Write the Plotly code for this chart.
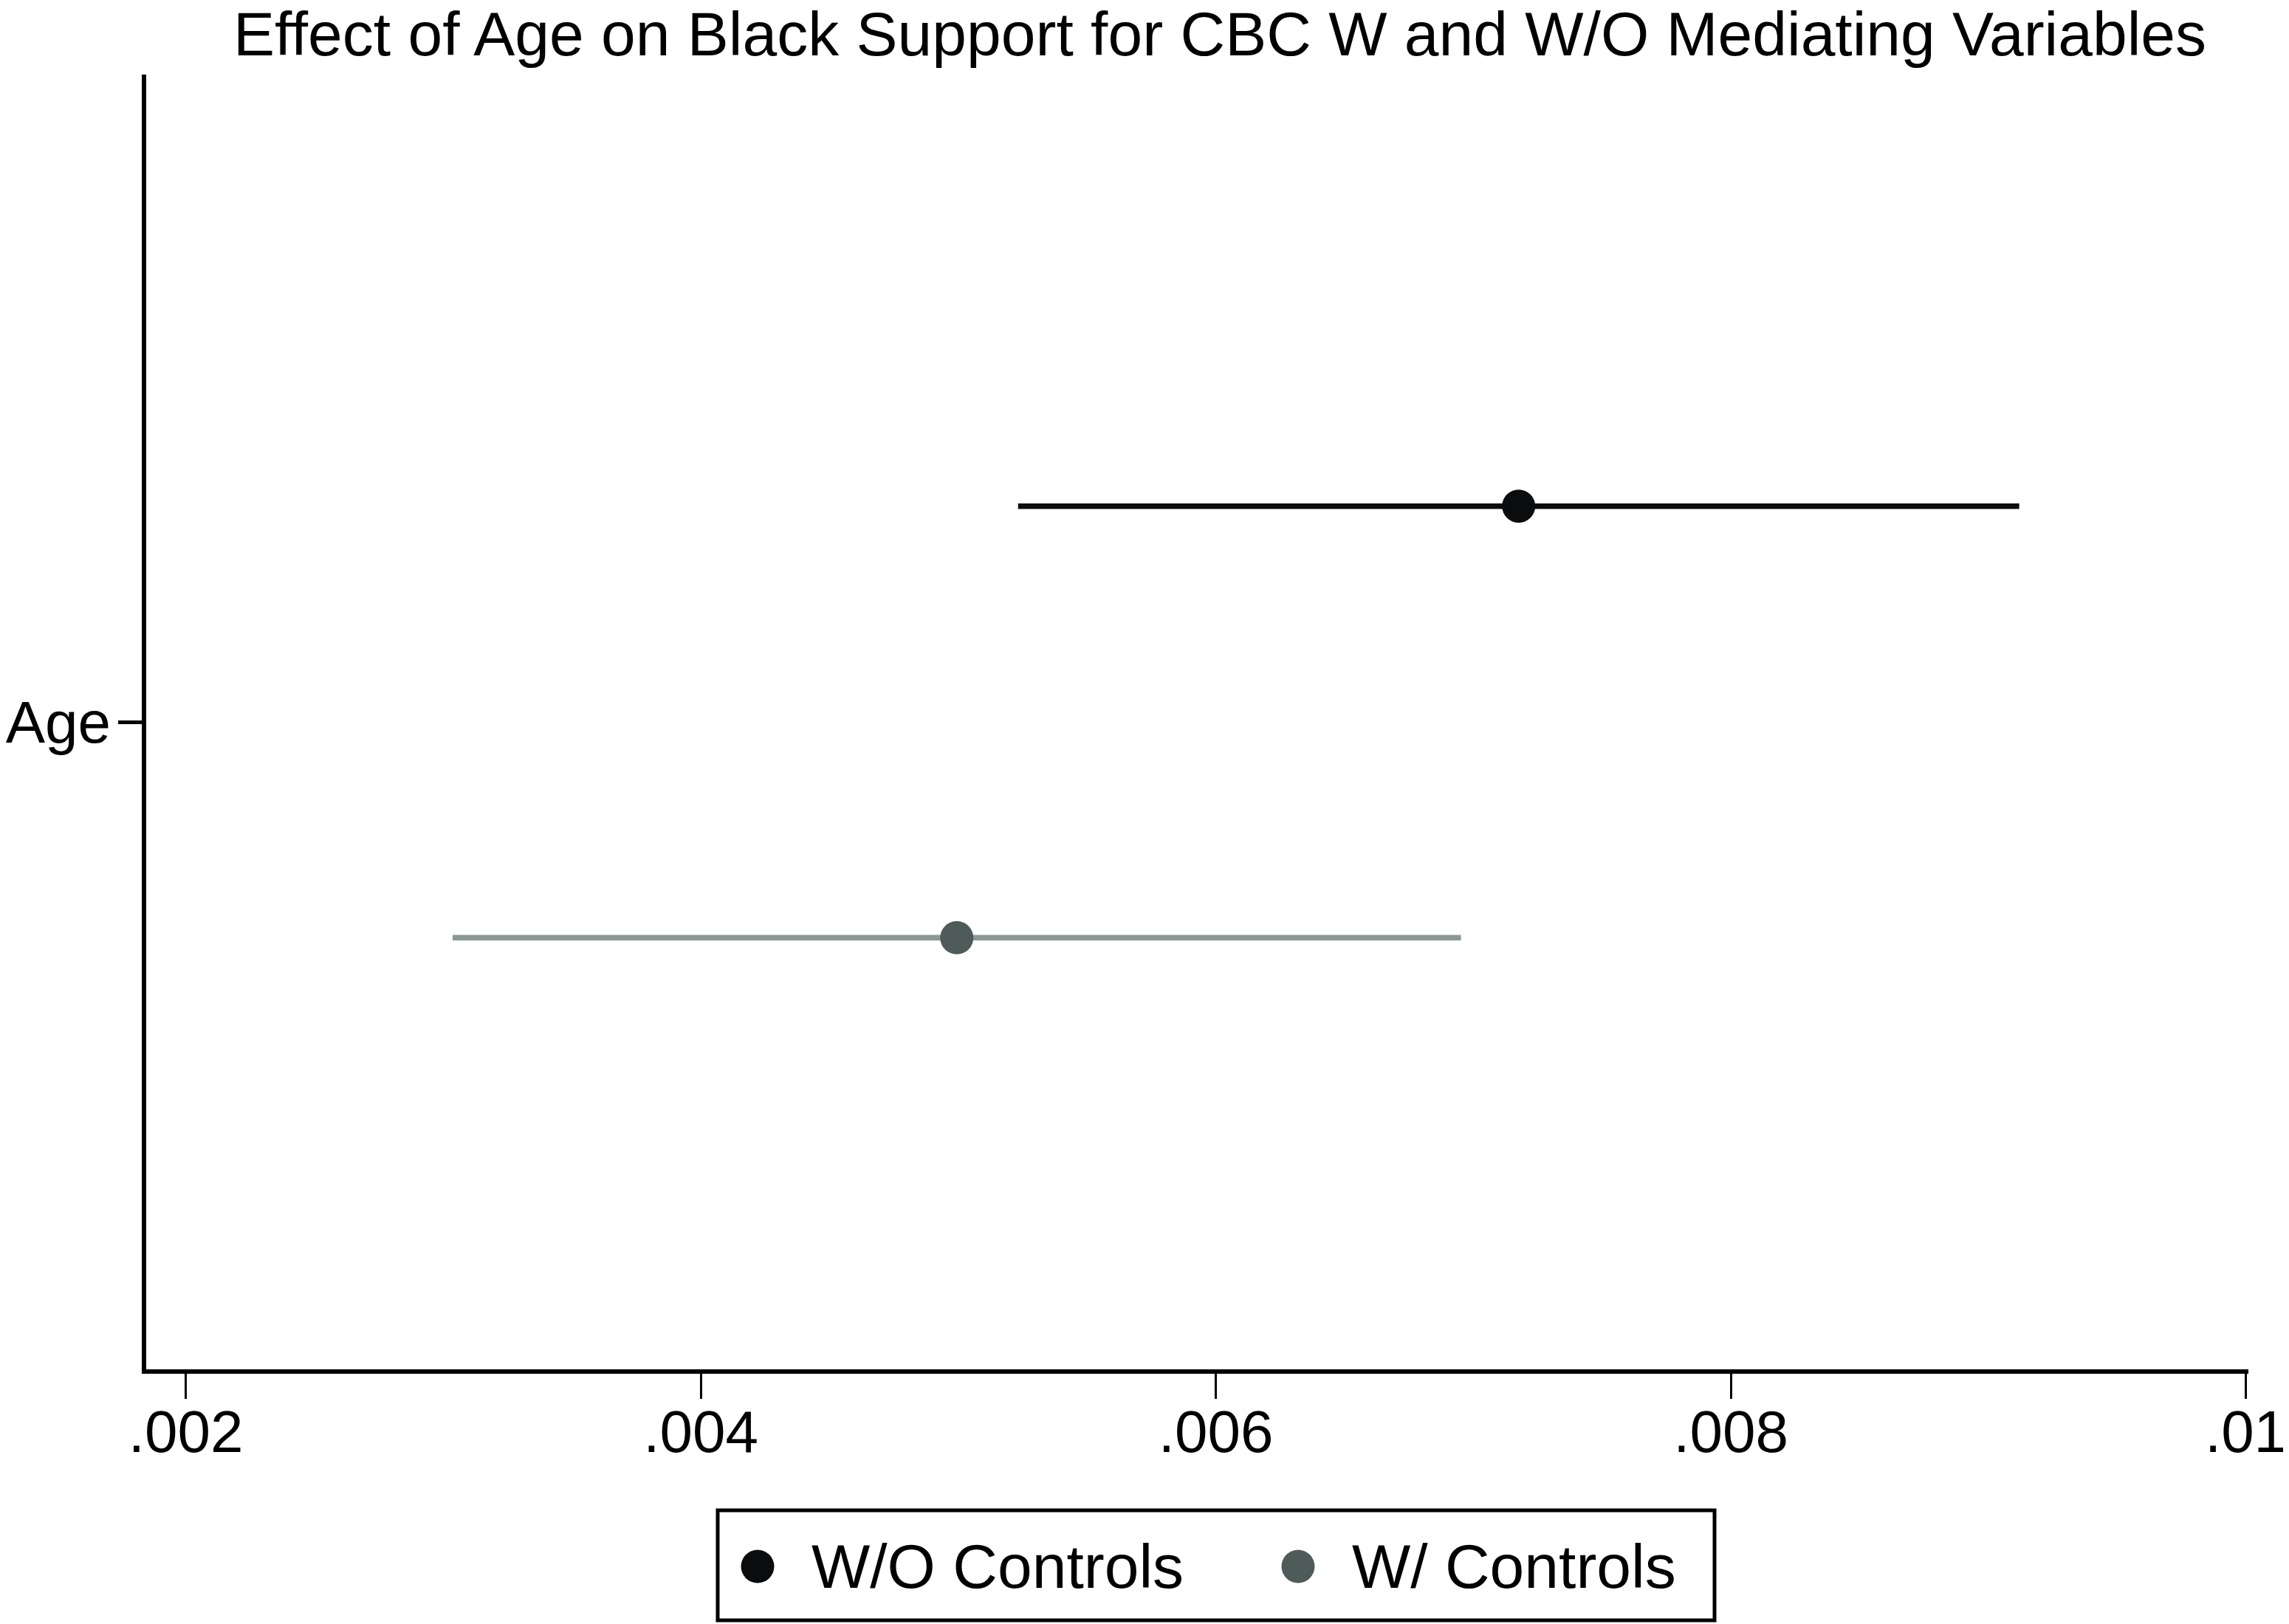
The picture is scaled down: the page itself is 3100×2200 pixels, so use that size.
import plotly.graph_objects as go

# ---- data ----
category = "Age"
series = ["W/O Controls", "W/ Controls"]
estimates = [0.007176, 0.004994]
ci_low = [0.005232, 0.003036]
ci_high = [0.00912, 0.006952]
x_tickvals = [0.002, 0.004, 0.006, 0.008, 0.01]
x_ticktext = [".002", ".004", ".006", ".008", ".01"]

# ---- style ----
marker_colors = ["#0a0c0e", "#4e5b59"]
line_colors = ["#0a0c0e", "#8a9896"]
offsets = [0.5, -0.5]
FONT = "Liberation Sans, Arial, sans-serif"
OFF = 8  # page body margin
W, H = 3100 - OFF, 2200 - OFF


def px(x):
    return (x - OFF) / W


def py(y):
    return 1 - (y - OFF) / H


fig = go.Figure()
for i, name in enumerate(series):
    fig.add_trace(go.Scatter(
        x=[estimates[i]], y=[offsets[i]], mode="markers", name=name,
        marker=dict(size=45, color=marker_colors[i], line=dict(width=0)),
        error_x=dict(type="data", symmetric=False,
                     array=[ci_high[i] - estimates[i]],
                     arrayminus=[estimates[i] - ci_low[i]],
                     color=line_colors[i], thickness=7.5, width=0),
        showlegend=False,
    ))

fig.update_layout(
    template="none",
    width=W, height=H,
    margin=dict(l=0, r=0, t=0, b=0, autoexpand=False),
    paper_bgcolor="white", plot_bgcolor="white",
    font=dict(family=FONT, color="black", size=80),
    showlegend=False,
    title=dict(text="Effect of Age on Black Support for CBC W and W/O Mediating Variables",
               x=px(1652), xref="container", xanchor="center",
               y=py(46), yref="container", yanchor="middle",
               font=dict(size=84, family=FONT, color="black")),
    xaxis=dict(domain=[px(198), px(3045)], range=[0.001846, 0.01001], automargin=False,
               tickvals=x_tickvals, ticktext=x_ticktext,
               showline=True, linecolor="black", linewidth=6,
               ticks="outside", ticklen=34, tickwidth=3, tickcolor="black",
               showgrid=False, zeroline=False,
               tickfont=dict(size=80, family=FONT, color="black"),
               ticklabelstandoff=-24),
    yaxis=dict(domain=[py(1855), py(101)], range=[-1.5, 1.5], automargin=False,
               tickvals=[0], ticktext=[category],
               showline=True, linecolor="black", linewidth=6,
               ticks="outside", ticklen=32, tickwidth=5, tickcolor="black",
               showgrid=False, zeroline=False,
               tickfont=dict(size=80, family=FONT, color="black"),
               ticklabelstandoff=-6),
)

# ---- legend (drawn manually to allow large symbols) ----
fig.add_shape(type="rect", xref="paper", yref="paper",
              x0=px(972), x1=px(2322), y0=py(2195), y1=py(2046),
              line=dict(color="black", width=5), fillcolor="white")
leg_marker_x = [px(1026), px(1758)]
leg_text_x = [px(1097), px(1829)]
leg_y = py(2122)
for i, name in enumerate(series):
    fig.add_shape(type="circle", xref="paper", yref="paper",
                  xsizemode="pixel", ysizemode="pixel",
                  xanchor=leg_marker_x[i], yanchor=leg_y,
                  x0=-22.5, x1=22.5, y0=-22.5, y1=22.5,
                  fillcolor=marker_colors[i], line=dict(width=0))
    fig.add_annotation(text=name, xref="paper", yref="paper",
                       x=leg_text_x[i], y=leg_y, xanchor="left", yanchor="middle",
                       showarrow=False, font=dict(size=84, family=FONT, color="black"))

fig.write_html("out.html")
